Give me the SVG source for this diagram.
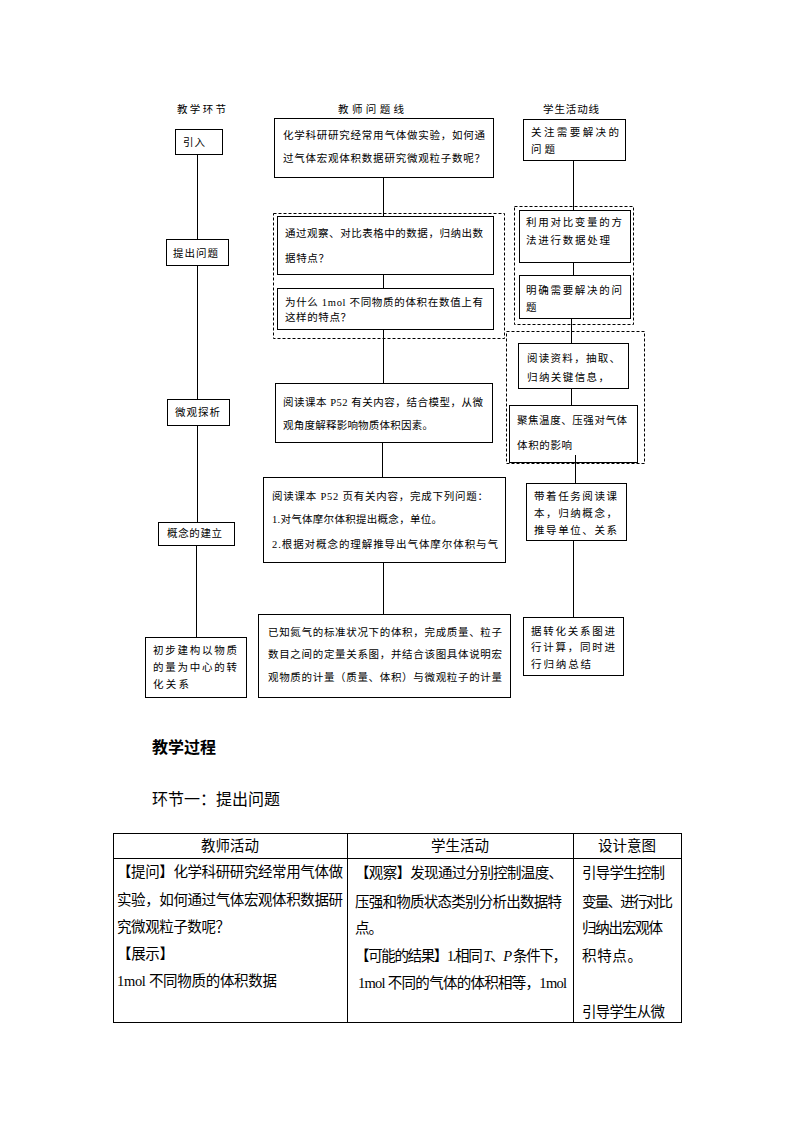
<svg xmlns="http://www.w3.org/2000/svg" width="794" height="1123" viewBox="0 0 794 1123">
<style>
.bg{fill:#fff}
.box{fill:#fff;stroke:#000;stroke-width:1}
.dash{fill:none;stroke:#000;stroke-width:1;stroke-dasharray:3 2}
.t{font-family:'Liberation Serif','Noto Sans CJK SC',serif;font-size:10.5px;fill:#000}
.h{font-family:'Liberation Serif','Noto Sans CJK SC',serif;font-size:10.5px;fill:#000}
.title{font-family:'Noto Sans CJK SC',sans-serif;font-size:16px;fill:#000}
.tb{font-family:'Liberation Serif','Noto Sans CJK SC',serif;font-size:14.5px;fill:#000}
.th{font-family:'Noto Sans CJK SC',sans-serif;font-size:14.5px;fill:#000}
.conn line{stroke:#000;stroke-width:1}
.grid line{stroke:#000;stroke-width:1}
.it{font-style:italic}
</style>
<rect class="bg" x="0" y="0" width="794" height="1123"/>

<g id="headers">
<text class="h" x="177" y="113" textLength="49" lengthAdjust="spacing">教学环节</text>
<text class="h" x="338" y="113" textLength="66" lengthAdjust="spacing">教师问题线</text>
<text class="h" x="543" y="113" textLength="56" lengthAdjust="spacing">学生活动线</text>
</g>

<!-- left column -->
<g id="L1"><rect class="box" x="175.5" y="129.5" width="47" height="25"/>
<text class="t" x="183" y="146" textLength="22" lengthAdjust="spacing">引入</text></g>
<g id="L2"><rect class="box" x="166.5" y="239.5" width="62" height="26"/>
<text class="t" x="173" y="257" textLength="45" lengthAdjust="spacing">提出问题</text></g>
<g id="L3"><rect class="box" x="167.5" y="399.5" width="62" height="26"/>
<text class="t" x="175" y="416" textLength="45" lengthAdjust="spacing">微观探析</text></g>
<g id="L4"><rect class="box" x="158.5" y="522.5" width="76" height="23"/>
<text class="t" x="167" y="537" textLength="55" lengthAdjust="spacing">概念的建立</text></g>
<g id="L5"><rect class="box" x="145.5" y="637.5" width="101" height="60"/>
<text class="t" x="153" y="654" textLength="84" lengthAdjust="spacing">初步建构以物质</text>
<text class="t" x="153" y="671" textLength="84" lengthAdjust="spacing">的量为中心的转</text>
<text class="t" x="153" y="688" textLength="36" lengthAdjust="spacing">化关系</text></g>

<!-- middle column -->
<g id="M1"><rect class="box" x="274.5" y="118.5" width="219" height="59"/>
<text class="t" x="283" y="139" textLength="202" lengthAdjust="spacing">化学科研研究经常用气体做实验，如何通</text>
<text class="t" x="283" y="162" textLength="202" lengthAdjust="spacing">过气体宏观体积数据研究微观粒子数呢？</text></g>
<g id="MG1"><rect class="dash" x="273.5" y="213.5" width="231" height="125"/></g>
<g id="M2"><rect class="box" x="277.5" y="216.5" width="216" height="58"/>
<text class="t" x="285" y="237" textLength="198" lengthAdjust="spacing">通过观察、对比表格中的数据，归纳出数</text>
<text class="t" x="285" y="262" textLength="44" lengthAdjust="spacing">据特点？</text></g>
<g id="M3"><rect class="box" x="277.5" y="288.5" width="216" height="41"/>
<text class="t" x="285" y="306" textLength="198" lengthAdjust="spacing">为什么 1mol 不同物质的体积在数值上有</text>
<text class="t" x="285" y="321" textLength="66" lengthAdjust="spacing">这样的特点？</text></g>
<g id="M4"><rect class="box" x="275.5" y="383.5" width="217" height="59"/>
<text class="t" x="283" y="406" textLength="200" lengthAdjust="spacing">阅读课本 P52 有关内容，结合模型，从微</text>
<text class="t" x="283" y="429" textLength="150" lengthAdjust="spacing">观角度解释影响物质体积因素。</text></g>
<g id="M5"><rect class="box" x="263.5" y="477.5" width="242" height="85"/>
<text class="t" x="272" y="500" textLength="216" lengthAdjust="spacing">阅读课本 P52 页有关内容，完成下列问题：</text>
<text class="t" x="272" y="523" textLength="170" lengthAdjust="spacing">1.对气体摩尔体积提出概念，单位。</text>
<text class="t" x="272" y="548" textLength="226" lengthAdjust="spacing">2.根据对概念的理解推导出气体摩尔体积与气</text></g>
<g id="M6"><rect class="box" x="258.5" y="614.5" width="252" height="83"/>
<text class="t" x="268" y="636" textLength="234" lengthAdjust="spacing">已知氮气的标准状况下的体积，完成质量、粒子</text>
<text class="t" x="268" y="658" textLength="234" lengthAdjust="spacing">数目之间的定量关系图，并结合该图具体说明宏</text>
<text class="t" x="268" y="681" textLength="234" lengthAdjust="spacing">观物质的计量（质量、体积）与微观粒子的计量</text></g>

<!-- right column -->
<g id="R1"><rect class="box" x="523.5" y="119.5" width="102" height="41"/>
<text class="t" x="531" y="136" textLength="88" lengthAdjust="spacing">关注需要解决的</text>
<text class="t" x="531" y="153" textLength="24" lengthAdjust="spacing">问题</text></g>
<g id="RG1"><rect class="dash" x="514.5" y="206.5" width="119" height="118"/></g>
<g id="R2"><rect class="box" x="519.5" y="210.5" width="111" height="52"/>
<text class="t" x="526" y="226" textLength="96" lengthAdjust="spacing">利用对比变量的方</text>
<text class="t" x="526" y="244" textLength="84" lengthAdjust="spacing">法进行数据处理</text></g>
<g id="R3"><rect class="box" x="519.5" y="275.5" width="111" height="43"/>
<text class="t" x="526" y="294" textLength="96" lengthAdjust="spacing">明确需要解决的问</text>
<text class="t" x="526" y="311" textLength="12" lengthAdjust="spacing">题</text></g>
<g id="RG2"><rect class="dash" x="506.5" y="331.5" width="138" height="132"/></g>
<g id="R4"><rect class="box" x="518.5" y="343.5" width="110" height="45"/>
<text class="t" x="527" y="362" textLength="93" lengthAdjust="spacing">阅读资料，抽取、</text>
<text class="t" x="527" y="381" textLength="82" lengthAdjust="spacing">归纳关键信息，</text></g>
<g id="R5"><rect class="box" x="509.5" y="405.5" width="128" height="57"/>
<text class="t" x="517" y="424" textLength="110" lengthAdjust="spacing">聚焦温度、压强对气体</text>
<text class="t" x="517" y="449" textLength="55" lengthAdjust="spacing">体积的影响</text></g>
<g id="R6"><rect class="box" x="526.5" y="483.5" width="100" height="57"/>
<text class="t" x="534" y="500" textLength="83" lengthAdjust="spacing">带着任务阅读课</text>
<text class="t" x="534" y="517" textLength="83" lengthAdjust="spacing">本，归纳概念，</text>
<text class="t" x="534" y="534" textLength="83" lengthAdjust="spacing">推导单位、关系</text></g>
<g id="R7"><rect class="box" x="523.5" y="617.5" width="100" height="58"/>
<text class="t" x="531" y="635" textLength="84" lengthAdjust="spacing">据转化关系图进</text>
<text class="t" x="531" y="651" textLength="84" lengthAdjust="spacing">行计算，同时进</text>
<text class="t" x="531" y="668" textLength="60" lengthAdjust="spacing">行归纳总结</text></g>

<g id="connectors" class="conn">
<line x1="197.5" y1="154.5" x2="197.5" y2="239.5"/>
<line x1="197.5" y1="265.5" x2="197.5" y2="399.5"/>
<line x1="197.5" y1="425.5" x2="197.5" y2="522.5"/>
<line x1="196.5" y1="545.5" x2="196.5" y2="637.5"/>
<line x1="383.5" y1="177.5" x2="383.5" y2="216.5"/>
<line x1="383.5" y1="274.5" x2="383.5" y2="288.5"/>
<line x1="383.5" y1="329.5" x2="383.5" y2="383.5"/>
<line x1="382.5" y1="442.5" x2="382.5" y2="477.5"/>
<line x1="383.5" y1="562.5" x2="383.5" y2="614.5"/>
<line x1="573.5" y1="160.5" x2="573.5" y2="210.5"/>
<line x1="573.5" y1="262.5" x2="573.5" y2="275.5"/>
<line x1="571.5" y1="318.5" x2="571.5" y2="343.5"/>
<line x1="571.5" y1="388.5" x2="571.5" y2="405.5"/>
<line x1="575.5" y1="455" x2="575.5" y2="483.5"/>
<line x1="573.5" y1="540.5" x2="573.5" y2="617.5"/>
</g>

<g id="process">
<text class="title" x="152" y="753" font-weight="bold">教学过程</text>
<text class="title" x="152" y="805" textLength="128" lengthAdjust="spacing">环节一：提出问题</text>
</g>

<g id="table">
<g class="grid">
<rect x="113.5" y="833.5" width="568" height="189" fill="none" stroke="#000" stroke-width="1"/>
<line x1="113.5" y1="858.5" x2="681.5" y2="858.5"/>
<line x1="347.5" y1="833.5" x2="347.5" y2="1022.5"/>
<line x1="573.5" y1="833.5" x2="573.5" y2="1022.5"/>
</g>
<text class="th" x="230" y="851" text-anchor="middle">教师活动</text>
<text class="th" x="460" y="851" text-anchor="middle">学生活动</text>
<text class="th" x="627" y="851" text-anchor="middle">设计意图</text>

<text class="tb" x="117" y="877" textLength="226" lengthAdjust="spacing">【提问】化学科研研究经常用气体做</text>
<text class="tb" x="117" y="905" textLength="226" lengthAdjust="spacing">实验，如何通过气体宏观体积数据研</text>
<text class="tb" x="117" y="932" textLength="113" lengthAdjust="spacing">究微观粒子数呢？</text>
<text class="tb" x="117" y="959" textLength="57" lengthAdjust="spacing">【展示】</text>
<text class="tb" x="117" y="986" textLength="160" lengthAdjust="spacing">1mol 不同物质的体积数据</text>

<text class="tb" x="355" y="878" textLength="208" lengthAdjust="spacing">【观察】发现通过分别控制温度、</text>
<text class="tb" x="355" y="907" textLength="207" lengthAdjust="spacing">压强和物质状态类别分析出数据特</text>
<text class="tb" x="355" y="933" textLength="28" lengthAdjust="spacing">点。</text>
<text class="tb" x="355" y="961" textLength="212" lengthAdjust="spacing">【可能的结果】1.相同&#160;<tspan class="it">T</tspan>、<tspan class="it">P</tspan>&#160;条件下，</text>
<text class="tb" x="358" y="988" textLength="209" lengthAdjust="spacing">1mol 不同的气体的体积相等，1mol</text>

<text class="tb" x="582" y="878" textLength="83" lengthAdjust="spacing">引导学生控制</text>
<text class="tb" x="582" y="907" textLength="91" lengthAdjust="spacing">变量、进行对比</text>
<text class="tb" x="582" y="933" textLength="81" lengthAdjust="spacing">归纳出宏观体</text>
<text class="tb" x="582" y="961" textLength="60" lengthAdjust="spacing">积特点。</text>
<text class="tb" x="582" y="1017" textLength="83" lengthAdjust="spacing">引导学生从微</text>
</g>
</svg>
